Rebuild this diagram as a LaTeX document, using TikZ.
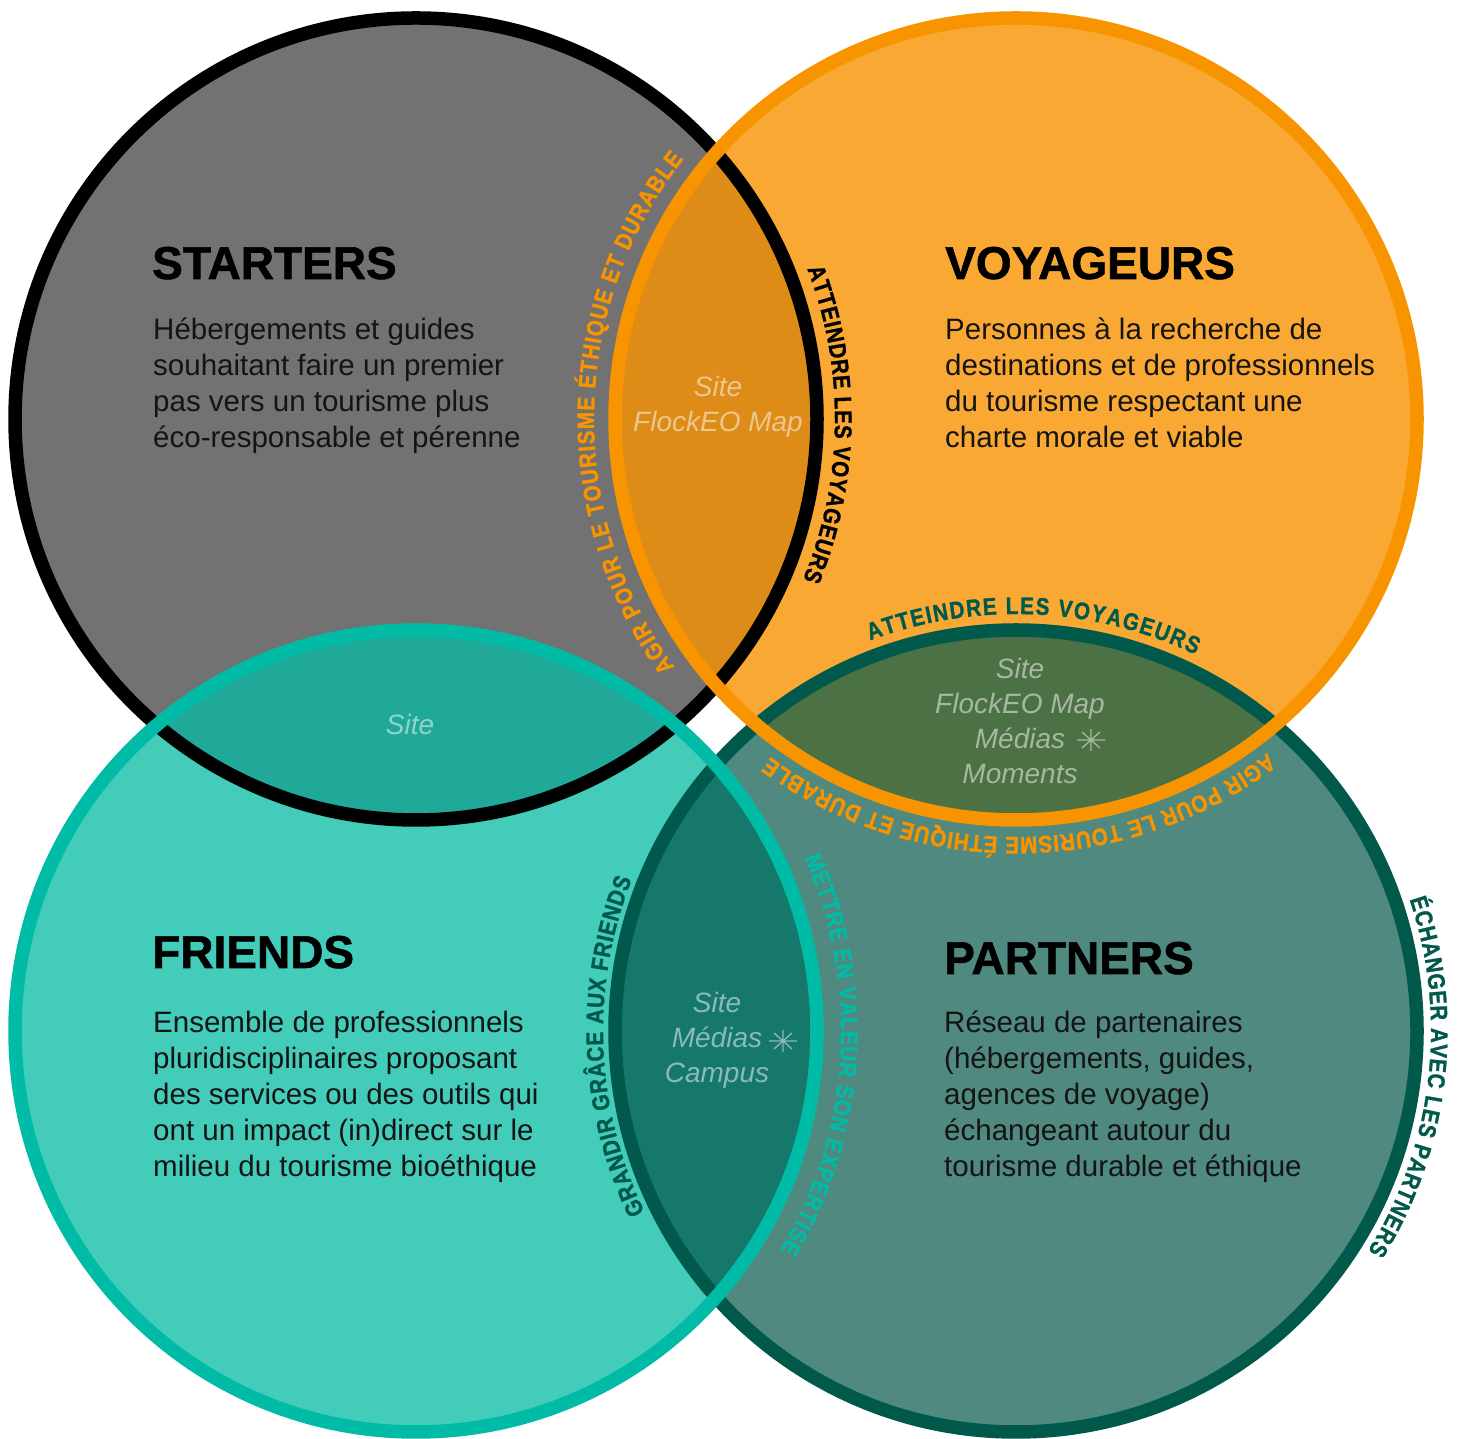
\documentclass[tikz,border=0pt]{standalone}
\usepackage{fontspec}
\setmainfont{Liberation Sans}
\newfontfamily\arcfont[FakeStretch=0.86, BoldFeatures={FakeBold=1.2}]{Liberation Sans}
\newfontfamily\headfont[BoldFeatures={FakeBold=1.2}]{Liberation Sans}
\usetikzlibrary{decorations.text}
\definecolor{sgray}{HTML}{727272}
\definecolor{vfill}{HTML}{F9A833}
\definecolor{vring}{HTML}{F79400}
\definecolor{ffill}{HTML}{43CCBA}
\definecolor{fring}{HTML}{00BCA6}
\definecolor{pfill}{HTML}{4F897F}
\definecolor{pring}{HTML}{00594B}
\definecolor{svfill}{HTML}{DE8C18}
\definecolor{sffill}{HTML}{20A898}
\definecolor{vpfill}{HTML}{4C7144}
\definecolor{fpfill}{HTML}{16786B}
\definecolor{svtext}{HTML}{EEC68C}
\definecolor{sftext}{HTML}{8FD3CB}
\definecolor{vptext}{HTML}{A6B8A1}
\definecolor{fptext}{HTML}{8ABBB5}
\begin{document}
\begin{tikzpicture}[x=1pt,y=1pt,
  ring/.style={line width=13.5pt},
  titlebox/.style={anchor=base west, inner sep=0pt, font=\headfont\fontsize{46}{46}\selectfont\bfseries, text=black},
  bodybox/.style={anchor=north west, inner sep=0pt, align=left, font=\fontsize{29.5}{36}\selectfont, text=black!92},
  labbox/.style={align=center, inner sep=0pt, font=\fontsize{28}{35}\selectfont\itshape},
  starline/.style={line width=1.3pt},
  curved/.style n args={2}{decorate, decoration={text along path, text align=fit to path, text color=#1, text={|\arcfont\fontsize{24}{24}\selectfont\bfseries|#2}}}
]
\useasboundingbox (0,0) rectangle (1466,1439);
\fill[white] (0,0) rectangle (1466,1439);
\coordinate (S) at (416,1020);
\coordinate (V) at (1016,1020);
\coordinate (F) at (416,408);
\coordinate (P) at (1016,408);
% fills
\fill[sgray] (S) circle[radius=401];
\fill[vfill] (V) circle[radius=401];
\fill[ffill] (F) circle[radius=401];
\fill[pfill] (P) circle[radius=401];
% overlaps
\begin{scope}\clip (S) circle[radius=401]; \fill[svfill] (V) circle[radius=401];\end{scope}
\begin{scope}\clip (S) circle[radius=401]; \fill[sffill] (F) circle[radius=401];\end{scope}
\begin{scope}\clip (V) circle[radius=401]; \fill[vpfill] (P) circle[radius=401];\end{scope}
\begin{scope}\clip (F) circle[radius=401]; \fill[fpfill] (P) circle[radius=401];\end{scope}
% rings
\draw[ring, black] (S) circle[radius=401];
\draw[ring, pring] (P) circle[radius=401];
\draw[ring, fring] (F) circle[radius=401];
\draw[ring, vring] (V) circle[radius=401];
% curved texts
\path[curved={vring}{AGIR POUR LE TOURISME ÉTHIQUE ET DURABLE}] ([shift={(216:422)}]V) arc[start angle=216,end angle=142,radius=422];
\path[curved={black}{ATTEINDRE LES VOYAGEURS}] ([shift={(21:419)}]S) arc[start angle=21,end angle=-22.5,radius=419];
\path[curved={pring}{ATTEINDRE LES VOYAGEURS}] ([shift={(110.5:417)}]P) arc[start angle=110.5,end angle=64.5,radius=417];
\path[curved={vring}{AGIR POUR LE TOURISME ÉTHIQUE ET DURABLE}] ([shift={(-53:418)}]V) arc[start angle=-53,end angle=-126,radius=418];
\path[curved={pring}{ÉCHANGER AVEC LES PARTNERS}] ([shift={(18.5:415)}]P) arc[start angle=18.5,end angle=-32,radius=415];
\path[curved={pring}{GRANDIR GRÂCE AUX FRIENDS}] ([shift={(206:413)}]P) arc[start angle=206,end angle=158.5,radius=413];
\path[curved={fring}{METTRE EN VALEUR SON EXPERTISE}] ([shift={(24:425)}]F) arc[start angle=24,end angle=-31,radius=425];
% titles and bodies
\node[titlebox] (st) at (152,1160) {STARTERS};
\node[bodybox] (sb) at (153,1121) {Hébergements et guides\\souhaitant faire un premier\\pas vers un tourisme plus\\éco-responsable et pérenne};
\node[titlebox] (vt) at (945,1160) {VOYAGEURS};
\node[bodybox] (vb) at (945,1121) {Personnes à la recherche de\\destinations et de professionnels\\du tourisme respectant une\\charte morale et viable};
\node[titlebox] (ft) at (152,471) {FRIENDS};
\node[bodybox] (fb) at (153,428) {Ensemble de professionnels\\pluridisciplinaires proposant\\des services ou des outils qui\\ont un impact (in)direct sur le\\milieu du tourisme bioéthique};
\node[titlebox] (pt) at (944,465) {PARTNERS};
\node[bodybox] (pb) at (944,428) {Réseau de partenaires\\(hébergements, guides,\\agences de voyage)\\échangeant autour du\\tourisme durable et éthique};
% overlap labels
\node[labbox, text=svtext] (svlab) at (718,1032) {Site\\FlockEO Map};
\node[labbox, text=sftext] (sflab) at (410,714) {Site};
\node[labbox, text=vptext] (vplab) at (1020,718) {Site\\FlockEO Map\\Médias\\Moments};
\node[labbox, text=fptext] (fplab) at (717,399) {Site\\Médias\\Campus};
\coordinate (vpstar) at (1091,699);
\coordinate (fpstar) at (783,398);
\foreach \c/\col in {vpstar/vptext, fpstar/fptext}{
  \draw[starline, \col] (\c) +(-14,0) -- +(14,0) (\c) +(0,-11) -- +(0,11)
    (\c) +(-9,-8) -- +(9,8) (\c) +(-9,8) -- +(9,-8);
}
\end{tikzpicture}
\end{document}
